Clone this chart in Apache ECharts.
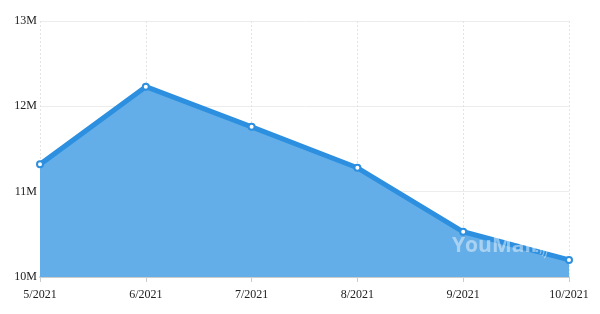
<!DOCTYPE html>
<html><head><meta charset="utf-8">
<script src="https://cdn.jsdelivr.net/npm/echarts@6/dist/echarts.min.js"></script>
<style>html,body{margin:0;padding:0;background:#fff}#c{width:600px;height:314px}</style>
</head><body><div id="c"></div>
<script>
var categories = ['5/2021','6/2021','7/2021','8/2021','9/2021','10/2021'];
var values = [11.32, 12.23, 11.76, 11.28, 10.53, 10.2];
var yTicks = [10, 11, 12, 13];

var chart = echarts.init(document.getElementById('c'));
var wm = 'rgba(255,255,255,0.45)';
function arc(r) {
  return {type: 'arc', x: 537, y: 251, z: 100, silent: true,
    shape: {cx: 0, cy: 0, r: r, startAngle: -Math.PI/3, endAngle: Math.PI/4, clockwise: true},
    style: {stroke: wm, lineWidth: 1.2, fill: 'none'}};
}
chart.setOption({
  animation: false,
  grid: {left: 40, right: 31, top: 21, bottom: 37},
  xAxis: {
    type: 'category', data: categories, boundaryGap: false,
    axisLine: {lineStyle: {color: '#cccccc', width: 2}},
    axisTick: {show: true, length: 5, lineStyle: {color: '#cccccc'}},
    axisLabel: {color: '#222', fontFamily: 'Liberation Serif', fontSize: 12, margin: 12},
    splitLine: {show: true, lineStyle: {color: '#e4e4e4', type: [2, 2]}}
  },
  yAxis: {
    type: 'value', min: 10, max: 13, interval: 1,
    axisLine: {show: false}, axisTick: {show: false},
    axisLabel: {color: '#222', fontFamily: 'Liberation Serif', fontSize: 12, margin: 3,
      formatter: function (v) { return v + 'M'; }},
    splitLine: {show: true, lineStyle: {color: '#ececec', width: 1}}
  },
  series: [{
    type: 'line', data: values,
    symbol: 'circle', symbolSize: 6,
    itemStyle: {color: '#ffffff', borderColor: '#2d8fdf', borderWidth: 2},
    lineStyle: {color: '#2d8fdf', width: 5},
    areaStyle: {color: '#63aee8', opacity: 1},
    z: 3
  }],
  graphic: [{
    type: 'text', x: 452, y: 236, z: 100, silent: true,
    style: {text: 'YouMail', fill: wm, font: 'bold 21px "Open Sans", sans-serif'}
  }, {
    type: 'circle', x: 537, y: 251, z: 100, silent: true,
    shape: {cx: 0, cy: 0, r: 1.3}, style: {fill: wm}
  }, arc(4), arc(7), arc(10)]
});
</script></body></html>
